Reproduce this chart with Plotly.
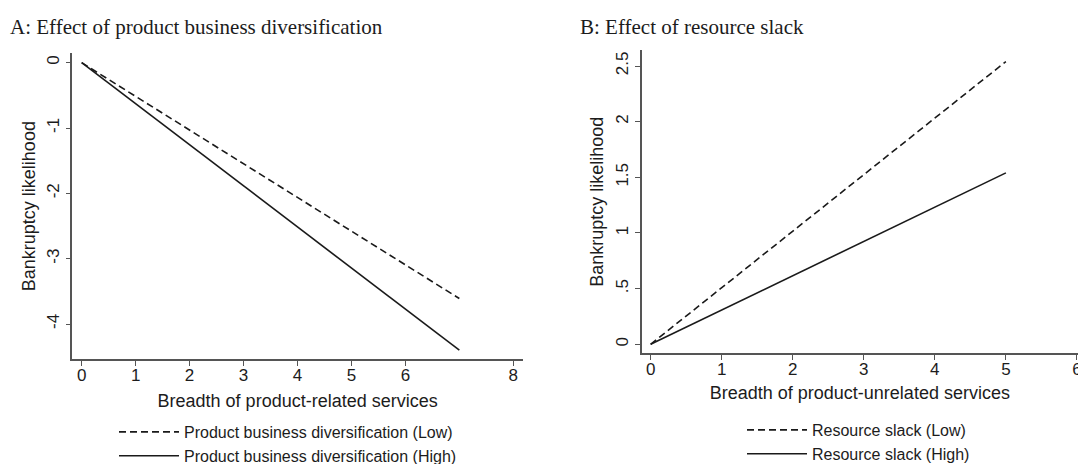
import plotly.graph_objects as go

# ---- data ----
a_x = [0, 7]
a_low = [0, -3.61]
a_high = [0, -4.40]
a_xticks = [0, 1, 2, 3, 4, 5, 6, 8]
a_yticks = [0, -1, -2, -3, -4]
a_yticktext = ["0", "-1", "-2", "-3", "-4"]

b_x = [0, 5]
b_low = [0, 2.54]
b_high = [0, 1.54]
b_xticks = [0, 1, 2, 3, 4, 5, 6]
b_yticks = [0, 0.5, 1, 1.5, 2, 2.5]
b_yticktext = ["0", ".5", "1", "1.5", "2", "2.5"]

a_names = ["Product business diversification (Low)", "Product business diversification (High)"]
b_names = ["Resource slack (Low)", "Resource slack (High)"]

W, H = 1078, 464
LINE = "#1a1a1a"
AXIS = "#555555"
TXT = "#1c1c1c"
SANS = "Liberation Sans, Arial, sans-serif"
SERIF = "Liberation Serif, Times New Roman, serif"

fig = go.Figure()
fig.add_trace(go.Scatter(x=a_x, y=a_low, mode="lines", name=a_names[0],
                         line=dict(color=LINE, width=1.6, dash="7px,4px"),
                         xaxis="x", yaxis="y", legend="legend"))
fig.add_trace(go.Scatter(x=a_x, y=a_high, mode="lines", name=a_names[1],
                         line=dict(color=LINE, width=1.6),
                         xaxis="x", yaxis="y", legend="legend"))
fig.add_trace(go.Scatter(x=b_x, y=b_low, mode="lines", name=b_names[0],
                         line=dict(color=LINE, width=1.6, dash="7px,4px"),
                         xaxis="x2", yaxis="y2", legend="legend2"))
fig.add_trace(go.Scatter(x=b_x, y=b_high, mode="lines", name=b_names[1],
                         line=dict(color=LINE, width=1.6),
                         xaxis="x2", yaxis="y2", legend="legend2"))

def px_x(p):
    return p / W

def px_y(p):
    return 1 - p / H

axcommon = dict(showgrid=False, zeroline=False, showline=True, linecolor=AXIS, linewidth=1.5,
                ticks="outside", ticklen=5, tickwidth=1.2, tickcolor=AXIS,
                tickfont=dict(family=SANS, size=17, color=TXT),
                title_font=dict(family=SANS, size=18, color=TXT), automargin=False)

fig.update_layout(
    width=W, height=H,
    margin=dict(l=0, r=0, t=0, b=0, autoexpand=False),
    paper_bgcolor="white", plot_bgcolor="white",
    xaxis=dict(domain=[px_x(72.3), px_x(523)], anchor="y", range=[-0.174, 8.18],
               tickvals=a_xticks, ticklabelstandoff=-5,
               title=dict(text="Breadth of product-related services", standoff=10),
               **axcommon),
    yaxis=dict(domain=[px_y(359.3), px_y(53)], anchor="x", range=[-4.54, 0.148],
               tickvals=a_yticks, ticktext=a_yticktext, tickangle=-90,
               title=dict(text="Bankruptcy likelihood", standoff=3),
               **axcommon),
    xaxis2=dict(domain=[px_x(641.7), 1.0], anchor="y2", range=[-0.126, 6.015],
                tickvals=b_xticks, ticklabelstandoff=-5, ticklabeloverflow="allow",
                title=dict(text="Breadth of product-unrelated services", standoff=8),
                **axcommon),
    yaxis2=dict(domain=[px_y(353.3), px_y(50)], anchor="x2", range=[-0.081, 2.644],
                tickvals=b_yticks, ticktext=b_yticktext, tickangle=-90,
                title=dict(text="Bankruptcy likelihood", standoff=5),
                **axcommon),
    legend=dict(x=px_x(114), y=px_y(415), xanchor="left", yanchor="top",
                font=dict(family=SANS, size=16, color=TXT), bgcolor="rgba(0,0,0,0)",
                itemwidth=60, tracegroupgap=0, itemclick=False),
    legend2=dict(x=px_x(742), y=px_y(413), xanchor="left", yanchor="top",
                 font=dict(family=SANS, size=16, color=TXT), bgcolor="rgba(0,0,0,0)",
                 itemwidth=60, tracegroupgap=0, itemclick=False),
    annotations=[
        dict(text="A: Effect of product business diversification", x=px_x(8), y=px_y(27),
             xref="paper", yref="paper", xanchor="left", yanchor="middle", showarrow=False,
             font=dict(family=SERIF, size=21, color=TXT)),
        dict(text="B: Effect of resource slack", x=px_x(578), y=px_y(27),
             xref="paper", yref="paper", xanchor="left", yanchor="middle", showarrow=False,
             font=dict(family=SERIF, size=21, color=TXT)),
    ],
    showlegend=True,
)

fig.write_html("out.html", config={"displayModeBar": False},
               post_script="document.body.style.margin='0';document.body.style.overflow='hidden';")
